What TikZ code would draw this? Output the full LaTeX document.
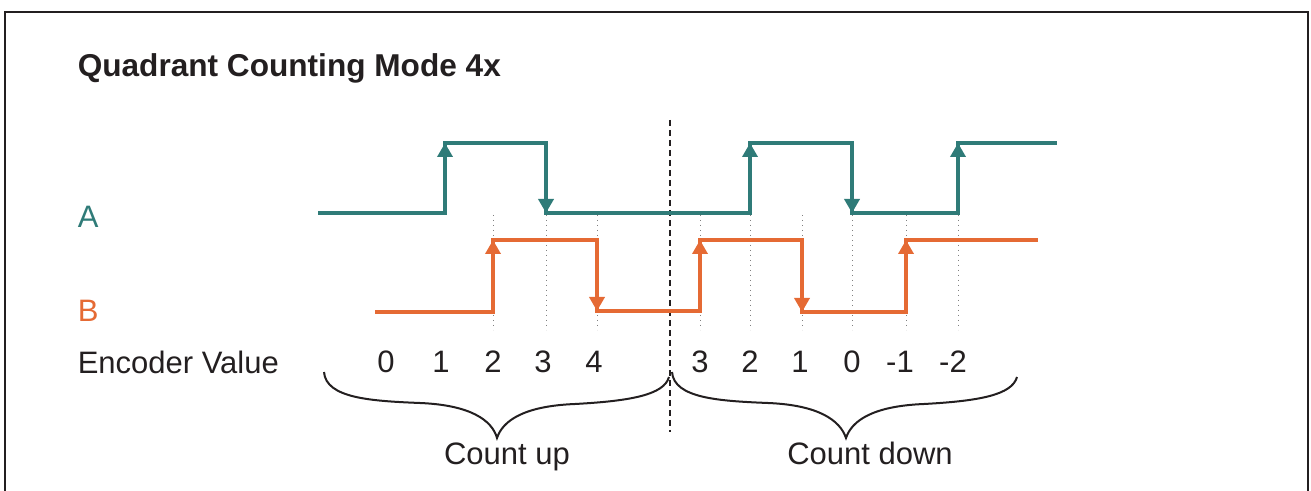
\documentclass[tikz,border=0pt]{standalone}
\usepackage{fontspec}
\setmainfont{Liberation Sans}
\usetikzlibrary{arrows.meta}
\definecolor{tealA}{RGB}{47,123,120}
\definecolor{orangeB}{RGB}{229,106,52}
\definecolor{inkgray}{RGB}{35,31,32}
\tikzset{every picture/.style={line width=0.75pt}}

\begin{document}
\begin{tikzpicture}[x=0.5pt,y=0.5pt,yscale=-1,xscale=1,
	wave/.style={line width=2pt},
	edgearrow/.style={line width=2pt,-{Triangle[width=7.5pt,length=7pt]}},
	guide/.style={gray,dotted,line width=0.5pt},
	lbl/.style={anchor=base west,inner sep=0pt,font=\fontsize{15.5}{18}\selectfont,text=inkgray},
	val/.style={anchor=base,inner sep=0pt,font=\fontsize{15.5}{18}\selectfont,text=inkgray}]
		\useasboundingbox (0,0) rectangle (1311,491);
		
		%Frame, open at the bottom
		\draw [inkgray,line width=1pt] (5,491) -- (5,12) -- (1308,12) -- (1308,491) ;
		
		%Labels
		\node [lbl,font=\fontsize{15.8}{18}\selectfont\bfseries] (title) at (77,77) {Quadrant Counting Mode 4x};
		\node [lbl,text=tealA] (labA) at (77,228) {A};
		\node [lbl,text=orangeB] (labB) at (77,322) {B};
		\node [lbl] (labEnc) at (77,374) {Encoder Value};
		
		%Guides at every edge
		\foreach \x in {493,546,597,700,750,802,852,906,958}
		\draw [guide] (\x,215) -- (\x,330) ;
		\draw [inkgray,line width=0.6pt,dash pattern=on 3pt off 2pt] (670,120) -- (670,432) ;
		
		%Signal A
		\draw [wave,tealA] (318,213) -- (445,213) -- (445,143) -- (546,143) -- (546,213) -- (750,213) -- (750,143) -- (852,143) -- (852,213) -- (958,213) -- (958,143) -- (1057,143) ;
		\foreach \x in {445,750,958}
		\draw [edgearrow,tealA] (\x,185) -- (\x,143) ;
		\foreach \x in {546,852}
		\draw [edgearrow,tealA] (\x,170) -- (\x,213) ;
		
		%Signal B
		\draw [wave,orangeB] (375,312) -- (493,312) -- (493,240) -- (597,240) -- (597,311) -- (700,311) -- (700,240) -- (802,240) -- (802,312) -- (906,312) -- (906,240) -- (1038,240) ;
		\foreach \x in {493,700,906}
		\draw [edgearrow,orangeB] (\x,280) -- (\x,240) ;
		\foreach \x/\y in {597/311,802/312}
		\draw [edgearrow,orangeB] (\x,270) -- (\x,\y) ;
		
		%Encoder values
		\foreach \x/\v [count=\i] in {386/0,441/1,493/2,543/3,594/4,700/3,750/2,800/1,852/0,900/-1,953/-2}
		\node [val] (v\i) at (\x,372) {\v};
		
		%Braces
		\draw [inkgray,line width=1pt] (324,372) .. controls (326,398) and (370,401) .. (420,403) .. controls (470,405) and (492,420) .. (497,438) .. controls (503,420) and (525,406) .. (575,404) .. controls (630,401) and (664,395) .. (669,377) ;
		\draw [inkgray,line width=1pt] (672,372) .. controls (674,398) and (718,401) .. (768,403) .. controls (818,405) and (840,420) .. (846,438) .. controls (852,420) and (874,406) .. (924,404) .. controls (979,401) and (1012,395) .. (1017,377) ;
		
		\node [val] (up) at (507,464) {Count up};
		\node [val] (down) at (870,464) {Count down};
		
	\end{tikzpicture}
\end{document}
